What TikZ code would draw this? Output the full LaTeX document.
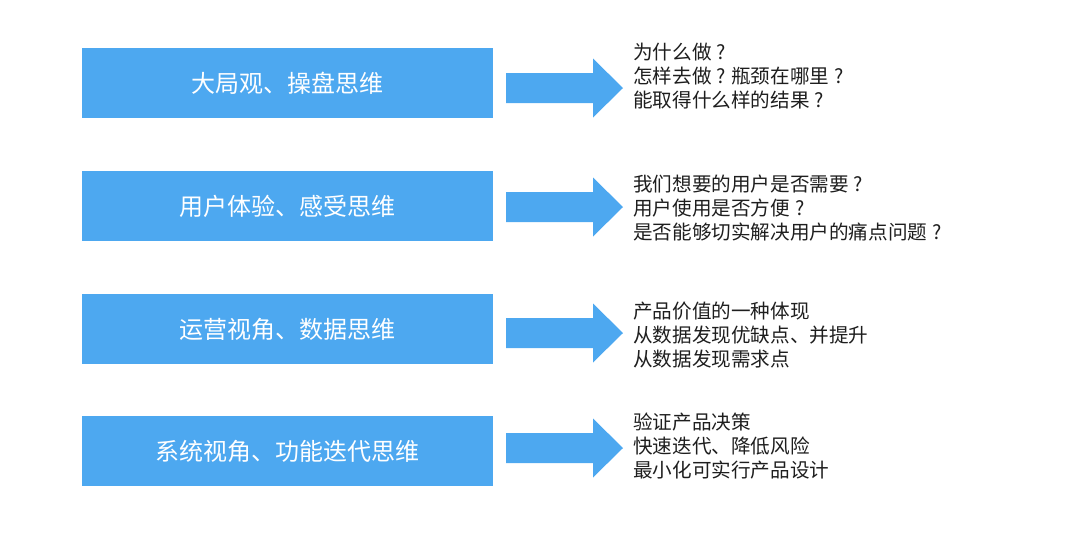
\documentclass[tikz,border=0pt]{standalone}
\usepackage{fontspec}
\usepackage{xcolor}
\usepackage{tikz}
\newfontfamily\cjk{Noto Sans CJK SC}
\definecolor{myblue}{RGB}{77,168,240}
\definecolor{mytext}{RGB}{30,30,30}
\newcommand{\qm}{\makebox[1em]{?}}

\begin{document}
\begin{tikzpicture}[x=1pt, y=-1pt,
  thinkbox/.style={fill=myblue, minimum width=411pt, minimum height=70pt, inner sep=0pt,
    text=white, font=\cjk\fontsize{24}{24}\selectfont},
  pics/bigarrow/.style={code={
    \fill[myblue] (0,-15) -- (87,-15) -- (87,-29.5) -- (117,0) -- (87,29.5)
      -- (87,15) -- (0,15) -- cycle;}},
  notes/.style={anchor=west, align=left, inner sep=0pt, text=mytext,
    font=\cjk\fontsize{19.6}{24}\selectfont}]
  \useasboundingbox (0,0) rectangle (1080,542);
  % left column
  \node[thinkbox] (b1) at (287.5,83)  {大局观、操盘思维};
  \node[thinkbox] (b2) at (287.5,206) {用户体验、感受思维};
  \node[thinkbox] (b3) at (287.5,329) {运营视角、数据思维};
  \node[thinkbox] (b4) at (287.5,451) {系统视角、功能迭代思维};
  % arrows
  \pic (a1) at (506,88)  {bigarrow};
  \pic (a2) at (506,207) {bigarrow};
  \pic (a3) at (506,333) {bigarrow};
  \pic (a4) at (506,448) {bigarrow};
  % right column
  \node[notes] (t1) at (633,76)  {为什么做\qm\\怎样去做\qm 瓶颈在哪里\qm\\能取得什么样的结果\qm};
  \node[notes] (t2) at (633,208) {我们想要的用户是否需要\qm\\用户使用是否方便\qm\\是否能够切实解决用户的痛点问题\qm};
  \node[notes] (t3) at (633,335) {产品价值的一种体现\\从数据发现优缺点、并提升\\从数据发现需求点};
  \node[notes] (t4) at (633,446) {验证产品决策\\快速迭代、降低风险\\最小化可实行产品设计};
\end{tikzpicture}
\end{document}
